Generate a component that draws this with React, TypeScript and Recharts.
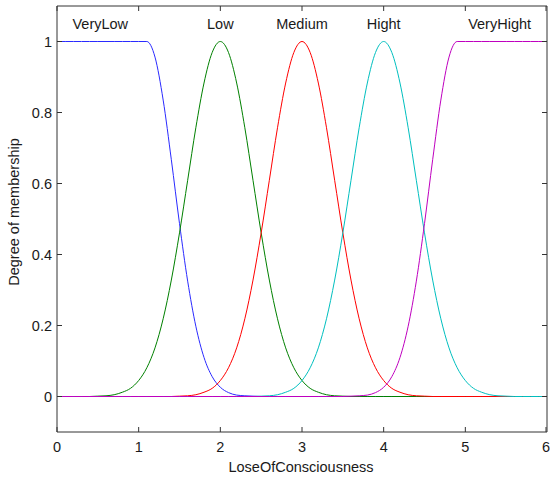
import { LineChart, Line, XAxis, YAxis, ReferenceDot } from "recharts";

// sampling grid on LoseOfConsciousness (0..6, step 0.1)
const xs = [
  0, 0.1, 0.2, 0.3, 0.4, 0.5, 0.6, 0.7, 0.8, 0.9,
  1, 1.1, 1.2, 1.3, 1.4, 1.5, 1.6, 1.7, 1.8, 1.9,
  2, 2.1, 2.2, 2.3, 2.4, 2.5, 2.6, 2.7, 2.8, 2.9,
  3, 3.1, 3.2, 3.3, 3.4, 3.5, 3.6, 3.7, 3.8, 3.9,
  4, 4.1, 4.2, 4.3, 4.4, 4.5, 4.6, 4.7, 4.8, 4.9,
  5, 5.1, 5.2, 5.3, 5.4, 5.5, 5.6, 5.7, 5.8, 5.9, 6,
];

// membership degrees
const veryLow = [
  1, 1, 1, 1, 1, 1, 1, 1, 1, 1,
  1, 1, 0.956, 0.835, 0.667, 0.487, 0.325, 0.198, 0.11, 0.056,
  0.026, 0.011, 0.004, 0.002, 0.001, 0, 0, 0, 0, 0,
  0, 0, 0, 0, 0, 0, 0, 0, 0, 0,
  0, 0, 0, 0, 0, 0, 0, 0, 0, 0,
  0, 0, 0, 0, 0, 0, 0, 0, 0, 0, 0,
];
const low = [
  0, 0, 0, 0, 0, 0.001, 0.002, 0.005, 0.012, 0.023,
  0.045, 0.081, 0.137, 0.219, 0.328, 0.461, 0.609, 0.757, 0.883, 0.969,
  1, 0.969, 0.883, 0.757, 0.609, 0.461, 0.328, 0.219, 0.137, 0.081,
  0.045, 0.023, 0.012, 0.005, 0.002, 0.001, 0, 0, 0, 0,
  0, 0, 0, 0, 0, 0, 0, 0, 0, 0,
  0, 0, 0, 0, 0, 0, 0, 0, 0, 0, 0,
];
const medium = [
  0, 0, 0, 0, 0, 0, 0, 0, 0, 0,
  0, 0, 0, 0, 0, 0.001, 0.002, 0.005, 0.012, 0.023,
  0.045, 0.081, 0.137, 0.219, 0.328, 0.461, 0.609, 0.757, 0.883, 0.969,
  1, 0.969, 0.883, 0.757, 0.609, 0.461, 0.328, 0.219, 0.137, 0.081,
  0.045, 0.023, 0.012, 0.005, 0.002, 0.001, 0, 0, 0, 0,
  0, 0, 0, 0, 0, 0, 0, 0, 0, 0, 0,
];
const hight = [
  0, 0, 0, 0, 0, 0, 0, 0, 0, 0,
  0, 0, 0, 0, 0, 0, 0, 0, 0, 0,
  0, 0, 0, 0, 0, 0.001, 0.002, 0.005, 0.012, 0.023,
  0.045, 0.081, 0.137, 0.219, 0.328, 0.461, 0.609, 0.757, 0.883, 0.969,
  1, 0.969, 0.883, 0.757, 0.609, 0.461, 0.328, 0.219, 0.137, 0.081,
  0.045, 0.023, 0.012, 0.005, 0.002, 0.001, 0, 0, 0, 0, 0,
];
const veryHight = [
  0, 0, 0, 0, 0, 0, 0, 0, 0, 0,
  0, 0, 0, 0, 0, 0, 0, 0, 0, 0,
  0, 0, 0, 0, 0, 0, 0, 0, 0, 0,
  0, 0, 0, 0, 0, 0, 0.001, 0.002, 0.004, 0.011,
  0.026, 0.056, 0.11, 0.198, 0.325, 0.487, 0.667, 0.835, 0.956, 1,
  1, 1, 1, 1, 1, 1, 1, 1, 1, 1, 1,
];

const mfNames = ["VeryLow", "Low", "Medium", "Hight", "VeryHight"];
const mfLabelX = [0.53, 2, 3, 4, 5.42];
const mfColors = ["#2a2aff", "#008000", "#ff0000", "#00bfbf", "#bf00bf"];
const mfKeys = ["veryLow", "low", "medium", "hight", "veryHight"];

const xTicks = [0, 1, 2, 3, 4, 5, 6];
const yTicks = [0, 0.2, 0.4, 0.6, 0.8, 1];

const data = xs.map((x, i) => ({
  x,
  veryLow: veryLow[i],
  low: low[i],
  medium: medium[i],
  hight: hight[i],
  veryHight: veryHight[i],
}));

const FONT = '"Liberation Sans", Arial, Helvetica, sans-serif';
const TXT = { fontFamily: FONT, fontSize: 14.5, fill: "#1a1a1a" };
const FRAME = "#333";

function LeftTick({ x, y, payload }: any) {
  return (
    <g>
      <line x1={x} y1={y} x2={x + 5} y2={y} stroke={FRAME} />
      <text x={x - 5} y={y} dy="0.36em" textAnchor="end" {...TXT}>
        {payload.value}
      </text>
    </g>
  );
}

function RightTick({ x, y }: any) {
  return <line x1={x - 5} y1={y} x2={x} y2={y} stroke={FRAME} />;
}

function BottomTick({ x, y, payload }: any) {
  return (
    <g>
      <line x1={x} y1={y} x2={x} y2={y - 5} stroke={FRAME} />
      <text x={x} y={y + 15} dy="0.36em" textAnchor="middle" {...TXT}>
        {payload.value}
      </text>
    </g>
  );
}

function TopTick({ x, y }: any) {
  return <line x1={x} y1={y} x2={x} y2={y + 5} stroke={FRAME} />;
}

export default function App() {
  return (
    <div style={{ position: "absolute", left: 0, top: 0, background: "#fff" }}>
      <LineChart
        width={550}
        height={480}
        data={data}
        margin={{ top: 0, right: 0, bottom: 0, left: 0 }}
      >
        <XAxis
          dataKey="x"
          type="number"
          domain={[0, 6]}
          ticks={xTicks}
          allowDataOverflow
          height={48}
          tickSize={0}
          tickMargin={0}
          tickLine={false}
          stroke={FRAME}
          tick={<BottomTick />}
          label={{
            content: () => (
              <text x={301} y={467} dy="0.36em" textAnchor="middle" {...TXT}>
                LoseOfConsciousness
              </text>
            ),
          }}
        />
        <XAxis
          xAxisId="top"
          orientation="top"
          dataKey="x"
          type="number"
          domain={[0, 6]}
          ticks={xTicks}
          allowDataOverflow
          height={6}
          tickSize={0}
          tickMargin={0}
          tickLine={false}
          stroke={FRAME}
          tick={<TopTick />}
        />
        <YAxis
          type="number"
          domain={[-0.1, 1.1]}
          ticks={yTicks}
          allowDataOverflow
          width={57}
          tickSize={0}
          tickMargin={0}
          tickLine={false}
          stroke={FRAME}
          tick={<LeftTick />}
          label={{
            content: () => (
              <text
                x={14}
                y={212}
                dy="0.36em"
                textAnchor="middle"
                transform="rotate(-90 14 212)"
                {...TXT}
              >
                Degree of membership
              </text>
            ),
          }}
        />
        <YAxis
          yAxisId="right"
          orientation="right"
          type="number"
          domain={[-0.1, 1.1]}
          ticks={yTicks}
          allowDataOverflow
          width={3}
          tickSize={0}
          tickMargin={0}
          tickLine={false}
          stroke={FRAME}
          tick={<RightTick />}
        />
        {mfKeys.map((k, i) => (
          <Line
            key={k}
            dataKey={k}
            type="monotone"
            stroke={mfColors[i]}
            strokeWidth={1}
            dot={false}
            activeDot={false}
            isAnimationActive={false}
          />
        ))}
        {mfNames.map((name, i) => (
          <ReferenceDot
            key={name}
            x={mfLabelX[i]}
            y={1.05}
            r={0}
            fill="none"
            stroke="none"
            ifOverflow="visible"
            label={{ value: name, position: "center", ...TXT }}
          />
        ))}
      </LineChart>
    </div>
  );
}
